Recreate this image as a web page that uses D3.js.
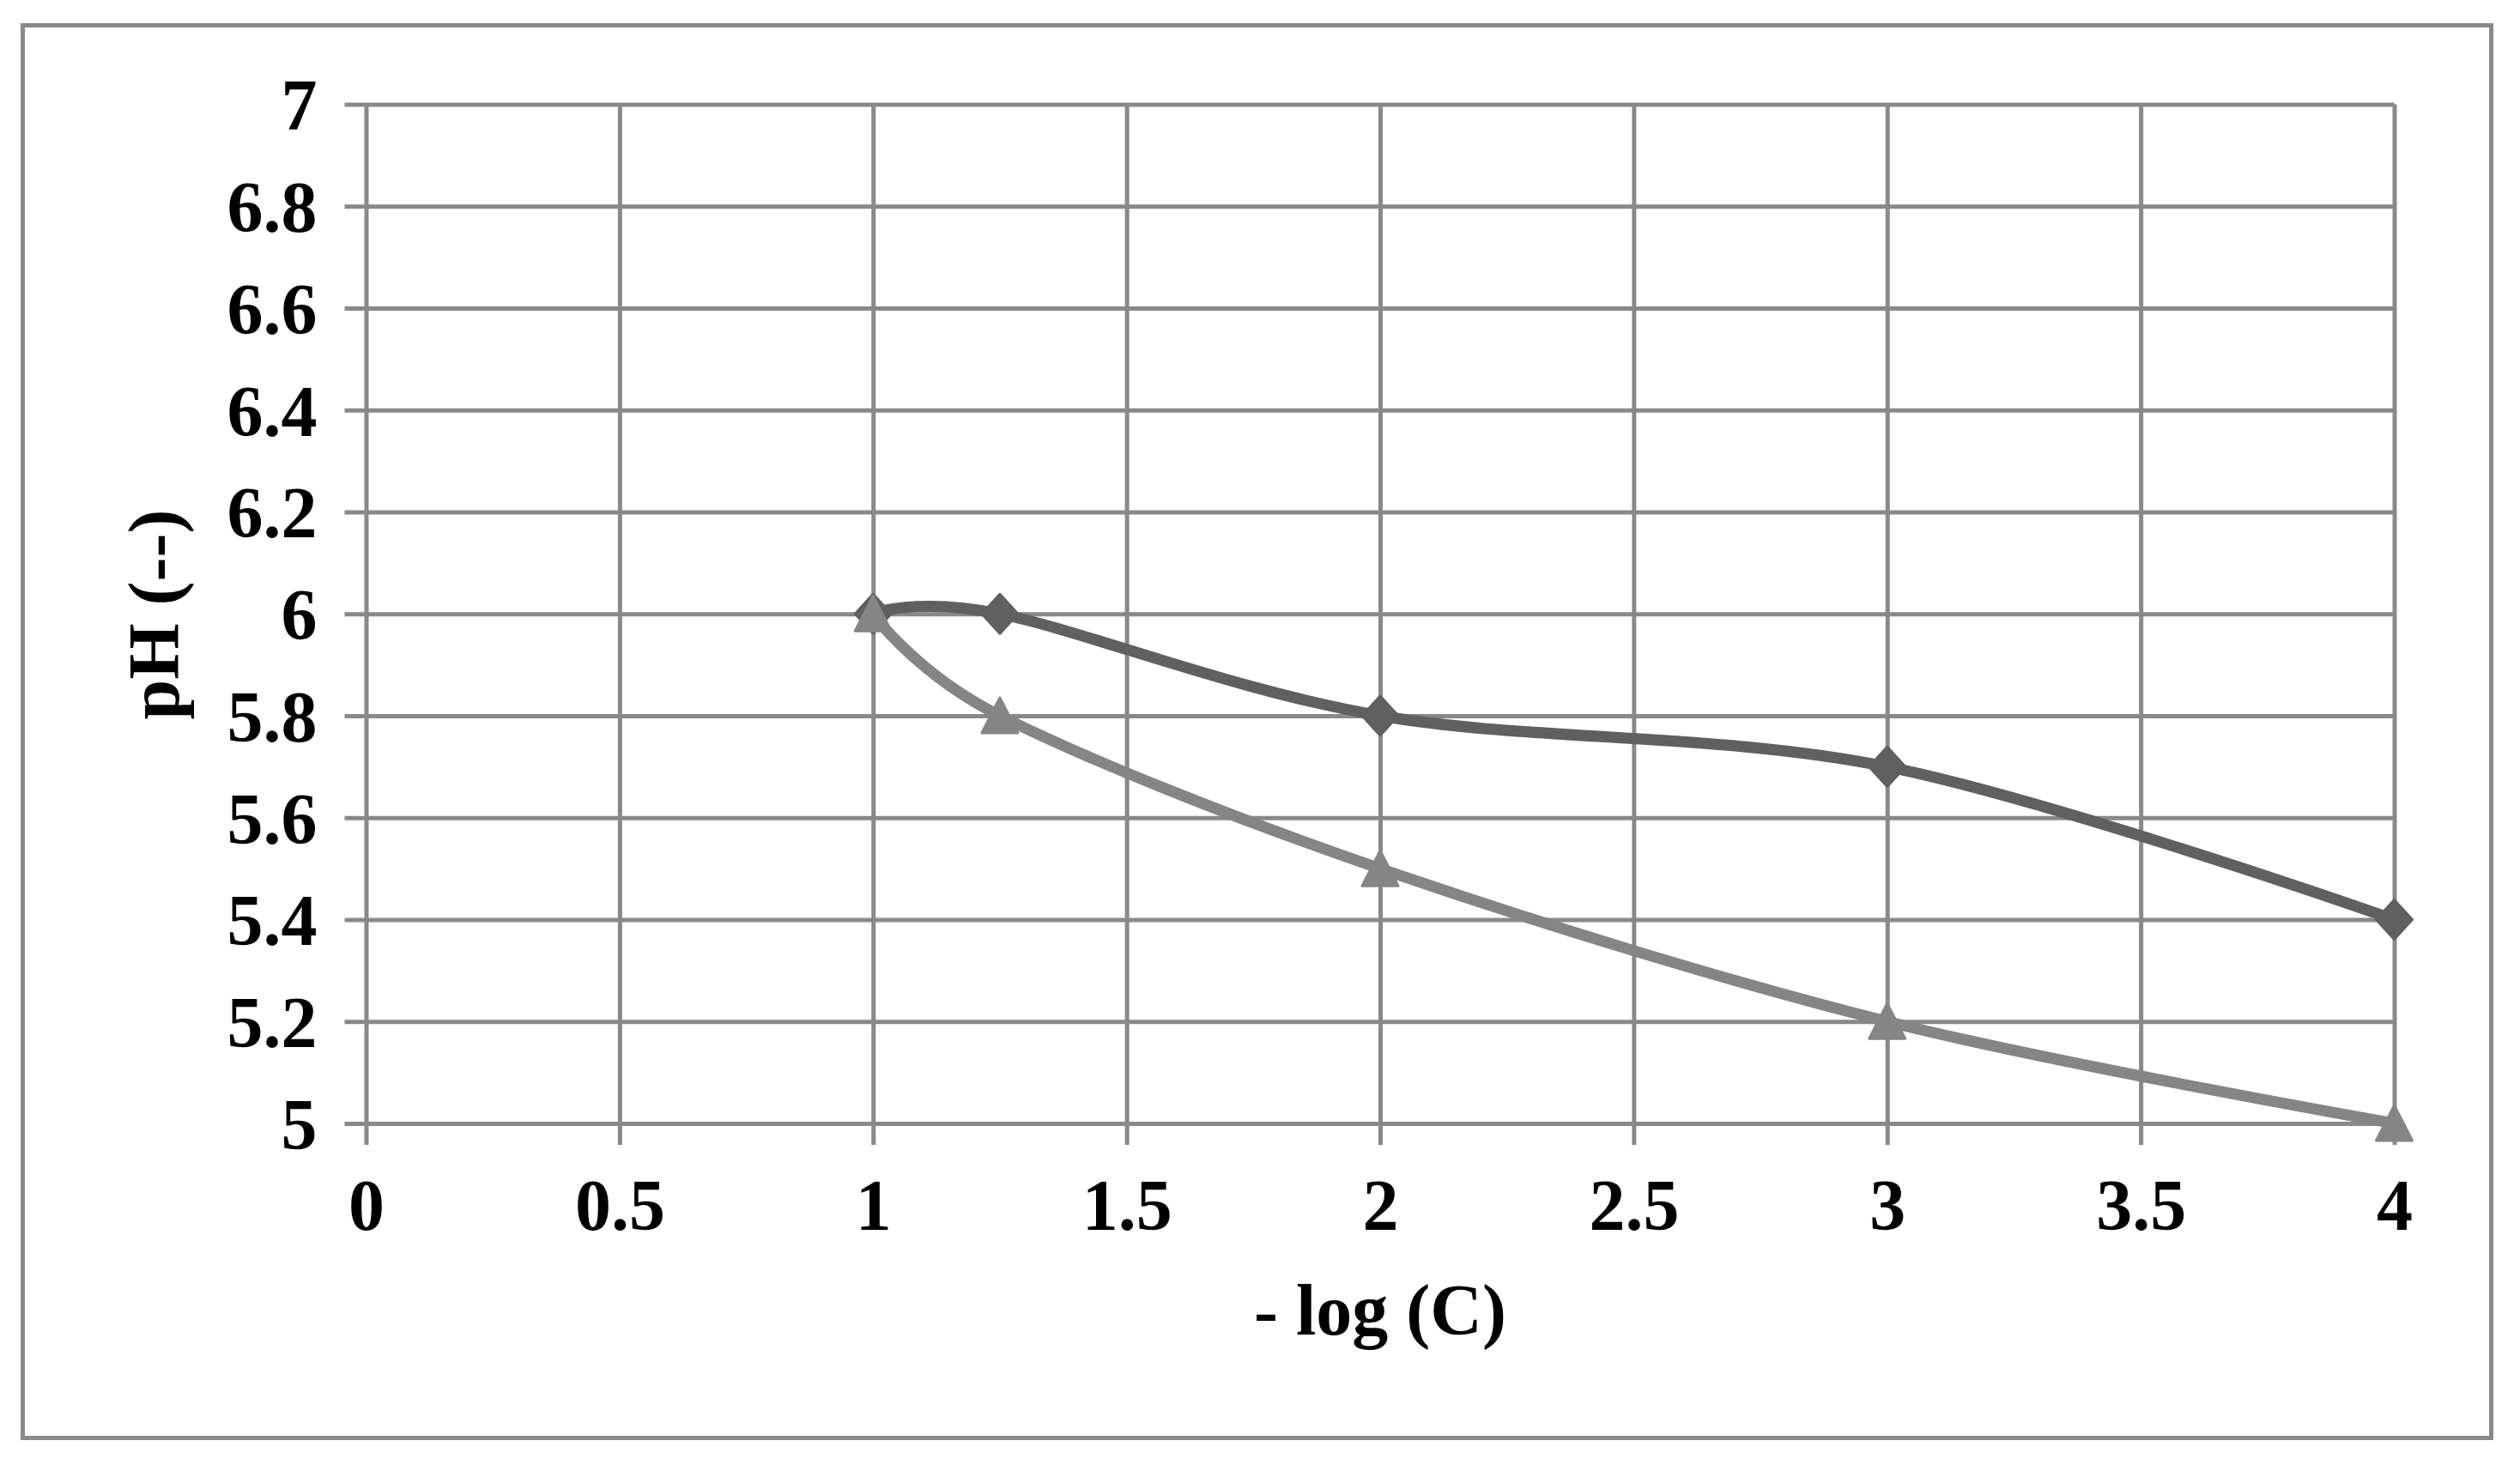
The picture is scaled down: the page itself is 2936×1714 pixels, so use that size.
<!DOCTYPE html>
<html>
<head>
<meta charset="utf-8">
<script src="https://cdn.jsdelivr.net/npm/d3@7"></script>
<style>
  body { margin: 0; background: #fff; }
  text { font-family: "Liberation Serif", "Times New Roman", serif; font-weight: bold; fill: #000; }
</style>
</head>
<body>
<svg width="2936" height="1714"></svg>
<script>
// data
var xValues = [1, 1.25, 2, 3, 4];
var phDiamond = [6.0, 6.0, 5.8, 5.7, 5.4];
var phTriangle = [6.0, 5.8, 5.5, 5.2, 5.0];
var xTicks = [0, 0.5, 1, 1.5, 2, 2.5, 3, 3.5, 4];
var yTicks = [5, 5.2, 5.4, 5.6, 5.8, 6, 6.2, 6.4, 6.6, 6.8, 7];

var svg = d3.select("svg"),
    margin = {top: 121.5, right: 146.5, bottom: 405, left: 426.5},
    width = +svg.attr("width") - margin.left - margin.right,
    height = +svg.attr("height") - margin.top - margin.bottom,
    gridColor = "#898989",
    tickOut = 25;

svg.append("rect")
    .attr("width", 2936).attr("height", 1714)
    .attr("fill", "#fff");

// chart border
svg.append("rect")
    .attr("x", 26.5).attr("y", 29.5)
    .attr("width", 2876).attr("height", 1646)
    .attr("fill", "none")
    .attr("stroke", gridColor)
    .attr("stroke-width", 5);

var x = d3.scaleLinear().domain([0, 4]).range([0, width]);
var y = d3.scaleLinear().domain([5, 7]).range([height, 0]);

var chart = svg.append("g")
    .attr("transform", "translate(" + margin.left + "," + margin.top + ")");

// y gridlines + ticks + labels
var yAxis = chart.append("g")
    .call(d3.axisLeft(y).tickValues(yTicks).tickSizeOuter(0).tickPadding(0)
      .tickFormat(d3.format("~g")));
yAxis.select(".domain").remove();
yAxis.selectAll(".tick line")
    .attr("x1", -tickOut).attr("x2", width)
    .attr("stroke", gridColor).attr("stroke-width", 5);
yAxis.selectAll(".tick text")
    .attr("x", -57).attr("dy", "0.35em")
    .attr("font-size", 84);

// x gridlines + ticks + labels
var xAxis = chart.append("g")
    .attr("transform", "translate(0," + height + ")")
    .call(d3.axisBottom(x).tickValues(xTicks).tickSizeOuter(0).tickPadding(0)
      .tickFormat(d3.format("~g")));
xAxis.select(".domain").remove();
xAxis.selectAll(".tick line")
    .attr("y1", tickOut).attr("y2", -height)
    .attr("stroke", gridColor).attr("stroke-width", 5);
xAxis.selectAll(".tick text")
    .attr("y", 124).attr("dy", 0)
    .attr("font-size", 84);
svg.selectAll(".tick text").attr("font-family", null).attr("fill", "#000");

// axis titles
chart.append("text")
    .attr("x", width / 2)
    .attr("y", 1555 - margin.top)
    .attr("text-anchor", "middle")
    .attr("font-size", 84)
    .text("- log (C)");

svg.append("text")
    .attr("transform", "translate(208,716) rotate(-90)")
    .attr("text-anchor", "middle")
    .attr("font-size", 84)
    .text("pH (--)");

// series
var series = [
  {values: phDiamond, color: "#606060", marker: "diamond"},
  {values: phTriangle, color: "#858585", marker: "triangle"}
];

var line = d3.line()
    .curve(d3.curveCatmullRom.alpha(0))
    .x(function(d) { return x(d[0]); })
    .y(function(d) { return y(d[1]); });

var markerPath = {
  diamond: "M0,-23L21,0L0,23L-21,0Z",
  triangle: "M0,-21L21,20L-21,20Z"
};

series.forEach(function(s) {
  var pts = xValues.map(function(v, i) { return [v, s.values[i]]; });
  chart.append("path")
      .datum(pts)
      .attr("d", line)
      .attr("fill", "none")
      .attr("stroke", s.color)
      .attr("stroke-width", 13);
  chart.selectAll(".m-" + s.marker)
      .data(pts)
    .enter().append("path")
      .attr("class", "m-" + s.marker)
      .attr("transform", function(d) { return "translate(" + x(d[0]) + "," + y(d[1]) + ")"; })
      .attr("d", markerPath[s.marker])
      .attr("fill", s.color)
      .attr("stroke", s.color)
      .attr("stroke-width", 3)
      .attr("stroke-linejoin", "round");
});
</script>
</body>
</html>
